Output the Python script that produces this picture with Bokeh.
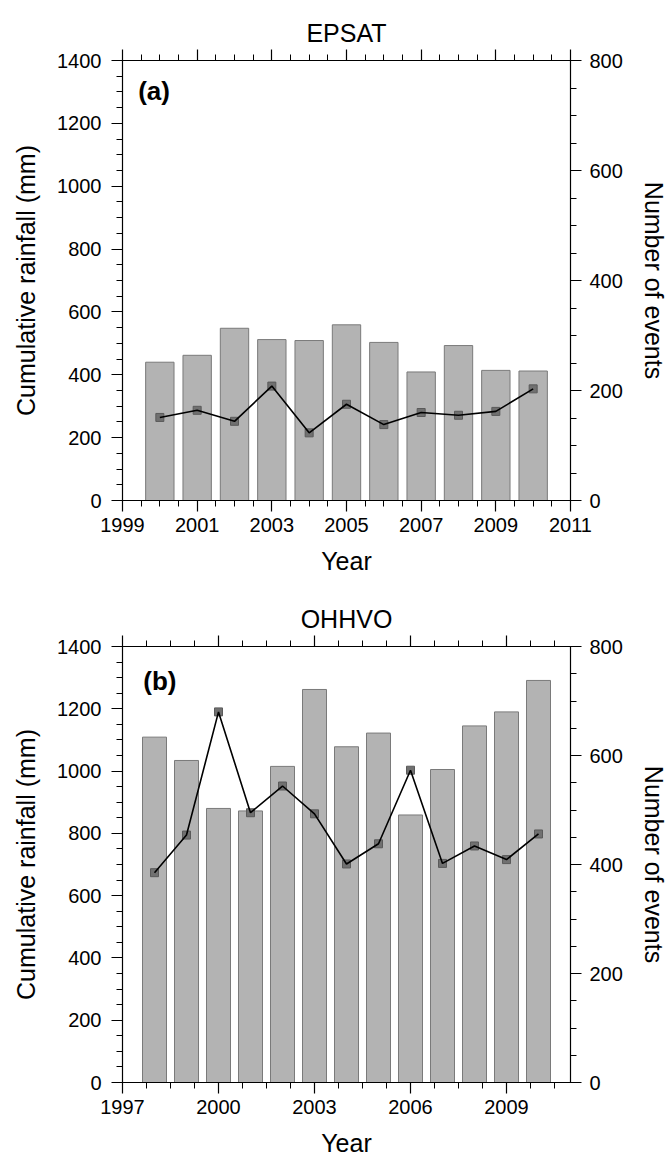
from bokeh.plotting import figure
from bokeh.models import Range1d, LinearAxis, FixedTicker, Label, ColumnDataSource, BasicTickFormatter
from bokeh.layouts import column
from bokeh.embed import file_html
from bokeh.resources import INLINE

# ---- data ----
years_a = [2000, 2001, 2002, 2003, 2004, 2005, 2006, 2007, 2008, 2009, 2010]
rain_a = [440, 462, 548, 512, 509, 559, 503, 409, 493, 414, 412]
events_a = [151, 164, 144, 208, 123, 175, 138, 160, 155, 162, 203]

years_b = [1998, 1999, 2000, 2001, 2002, 2003, 2004, 2005, 2006, 2007, 2008, 2009, 2010]
rain_b = [1109, 1034, 880, 872, 1015, 1262, 1078, 1122, 859, 1005, 1145, 1190, 1291]
events_b = [385, 454, 680, 495, 544, 493, 401, 438, 573, 402, 434, 409, 456]

rain_ticks = [0, 200, 400, 600, 800, 1000, 1200, 1400]
rain_minor = list(range(0, 1401, 50))
event_ticks = [0, 200, 400, 600, 800]
event_minor = list(range(0, 801, 50))

xmajor_a = [1999, 2001, 2003, 2005, 2007, 2009, 2011]
xminor_a = [1999 + 0.5 * i for i in range(25)]
xmajor_b = [1997, 2000, 2003, 2006, 2009]
xminor_b = [1997 + 0.75 * i for i in range(19)]

FONT = "Liberation Sans"
BAR_FILL = "#b3b3b3"
BAR_LINE = "#7a7a7a"


def style_axis(ax):
    ax.major_tick_out = 11
    ax.major_tick_in = 0
    ax.minor_tick_out = 6
    ax.minor_tick_in = 0
    ax.axis_line_color = "black"
    ax.axis_line_width = 1.2
    ax.major_tick_line_color = "black"
    ax.minor_tick_line_color = "black"
    ax.major_tick_line_width = 1.2
    ax.minor_tick_line_width = 1
    ax.major_label_text_font = FONT
    ax.major_label_text_color = "black"
    ax.major_label_text_font_size = "20px"
    ax.axis_label_text_font = FONT
    ax.axis_label_text_font_size = "25px"
    ax.axis_label_text_font_style = "normal"
    ax.axis_label_text_color = "black"


def make_panel(years, rain, events, xr, xmaj, xmin, title, tag, tagx, tagy,
               height, bl, br, bt, bb, width_bar):
    p = figure(width=670, height=height, x_range=Range1d(*xr), y_range=Range1d(0, 1400),
               output_backend="svg", toolbar_location=None,
               min_border_left=bl, min_border_right=br, min_border_top=bt, min_border_bottom=bb)
    p.extra_y_ranges = {"ev": Range1d(0, 800)}
    p.xgrid.visible = False
    p.ygrid.visible = False
    p.outline_line_color = "black"
    p.background_fill_color = "white"
    p.border_fill_color = "white"

    p.title.text = title
    p.title.align = "center"
    p.title.text_font = FONT
    p.title.text_font_size = "25px"
    p.title.text_font_style = "normal"
    p.title.text_color = "black"
    p.title.standoff = 6

    xa = p.xaxis[0]
    xa.ticker = FixedTicker(ticks=xmaj, minor_ticks=xmin)
    xa.formatter = BasicTickFormatter(use_scientific=False)
    xa.axis_label = "Year"
    style_axis(xa)
    xa.major_label_standoff = 6
    xa.axis_label_standoff = 12

    ya = p.yaxis[0]
    ya.ticker = FixedTicker(ticks=rain_ticks, minor_ticks=rain_minor)
    ya.axis_label = "Cumulative rainfall (mm)"
    style_axis(ya)
    ya.major_label_standoff = 10
    ya.axis_label_standoff = 14

    ra = LinearAxis(y_range_name="ev", ticker=FixedTicker(ticks=event_ticks, minor_ticks=event_minor),
                    axis_label="Number of events")
    style_axis(ra)
    ra.major_label_standoff = 8
    ra.axis_label_standoff = 14
    p.add_layout(ra, "right")

    # top border with outward ticks, no labels
    ta = LinearAxis(ticker=FixedTicker(ticks=xmaj, minor_ticks=xmin))
    style_axis(ta)
    ta.major_label_overrides = {t: "" for t in xmaj}
    ta.major_label_standoff = 0
    p.add_layout(ta, "above")

    src = ColumnDataSource(dict(year=years, rain=rain, events=events))
    p.vbar(x="year", top="rain", bottom=0, width=width_bar, source=src,
           fill_color=BAR_FILL, line_color=BAR_LINE, line_width=1)
    p.scatter(x="year", y="events", source=src, y_range_name="ev", marker="square",
              size=8, fill_color="#707070", line_color="#5a5a5a", line_width=1)
    p.line(x="year", y="events", source=src, y_range_name="ev", line_color="black", line_width=1.6)

    p.add_layout(Label(x=tagx, y=tagy, text=tag, text_font=FONT, text_font_size="26px",
                       text_font_style="bold", text_baseline="top", text_align="left",
                       text_color="black"))
    return p


pa = make_panel(years_a, rain_a, events_a, (1999, 2011), xmajor_a, xminor_a, "EPSAT", "(a)",
                1999.42, 1350, 580, 122, 92, 60, 80, 0.76)
pb = make_panel(years_b, rain_b, events_b, (1997, 2011), xmajor_b, xminor_b, "OHHVO", "(b)",
                1997.65, 1338, 579, 118, 98, 66, 73, 0.75)

layout = column(pa, pb, spacing=0)
open("out.html", "w").write(file_html(layout, INLINE))
